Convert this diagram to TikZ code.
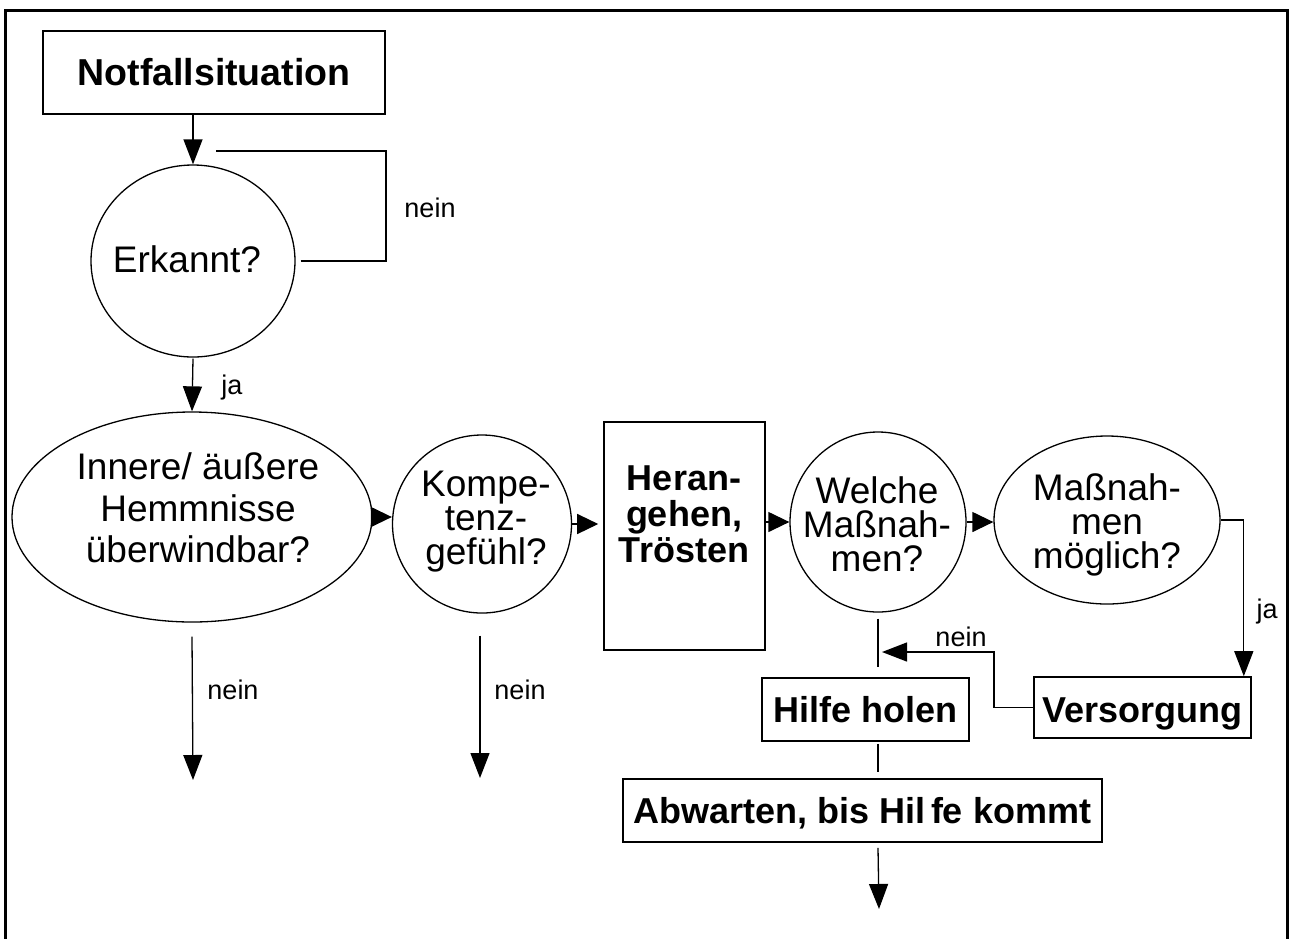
\documentclass[tikz,border=0pt]{standalone}
\usepackage{fontspec}
\setmainfont{Liberation Sans}
\usetikzlibrary{arrows.meta,shapes.geometric,calc}
\newcommand\mybold{\bfseries\fontsize{36}{36}\selectfont}
\newcommand\myreg{\fontsize{37}{34}\selectfont}
\newcommand\mylab{\fontsize{27}{27}\selectfont}
\begin{document}
\begin{tikzpicture}[x=1pt,y=-1pt,
  boxnode/.style={draw, line width=1.6pt, inner sep=0pt, font=\mybold},
  ovalnode/.style={draw, ellipse, line width=1.3pt, inner sep=0pt},
  rtext/.style={align=center, font=\myreg, inner sep=0pt},
  lbl/.style={font=\mylab, inner sep=0pt},
  conn/.style={line width=1.3pt},
  arr/.style={conn, -{Triangle[length=25pt,width=19pt]}},
  harr/.style={conn, -{Triangle[length=21pt,width=20pt]}}]
\useasboundingbox (0,0) rectangle (1289,938);
% frame
\draw[line width=3pt] (5,940) -- (5,10) -- (1287,10) -- (1287,940);

% boxes
\node[boxnode, minimum width=342pt, minimum height=83pt, font=\bfseries\fontsize{37.5}{37.5}\selectfont] (notf) at (214,72.5) {Notfallsituation};
\node[boxnode, minimum width=161pt, minimum height=228pt] (heran) at (684.5,536) {};
\node[align=center, font=\mybold, inner sep=0pt] (heranT) at (684,514) {Heran-\\gehen,\\Trösten};
\node[boxnode, minimum width=207pt, minimum height=63pt, text height=25pt, text depth=0pt] (hilfe) at (865.5,709.5) {Hilfe holen};
\node[boxnode, minimum width=217pt, minimum height=61pt, text height=29pt, text depth=0pt] (vers) at (1142.5,707.5) {Versorgung};
\node[boxnode, minimum width=479pt, minimum height=63pt, text height=25pt, text depth=0pt] (abw) at (862.5,810.5) {Abwarten, bis Hil\kern5pt fe kommt};

% ovals
\node[ovalnode, minimum width=204pt, minimum height=192pt] (erk) at (193,261) {};
\node[rtext] (erkT) at (187,259) {Erkannt?};
\node[ovalnode, minimum width=360pt, minimum height=210pt] (inn) at (192,517) {};
\node[rtext, font=\fontsize{37}{41.5}\selectfont] (innT) at (198,508) {Innere/ äußere\\Hemmnisse\\überwindbar?};
\node[ovalnode, minimum width=179pt, minimum height=178pt] (komp) at (482,524) {};
\node[rtext] (kompT) at (486,521.5) {Kompe-\\tenz-\\gefühl?};
\node[ovalnode, minimum width=176pt, minimum height=180pt] (welche) at (878,522) {};
\node[rtext] (welcheT) at (877,524) {Welche\\Maßnah-\\men?};
\node[ovalnode, minimum width=226pt, minimum height=168pt] (mass) at (1107,520) {};
\node[rtext] (massT) at (1107,524.5) {Maßnah-\\men\\möglich?};

% connectors
\draw[arr] (notf.south -| erk.north) -- (erk.north);
\coordinate (loopc) at (386,151);
\coordinate (loopend) at (216,151);
\draw[conn] ([xshift=5pt]erk.east) -| (loopc) -- (loopend);
\node[lbl] (nein1) at (430,208) {nein};

\draw[arr] ([yshift=-1pt]erk.south) -- (inn.north);
\node[lbl] (ja1) at (232,388) {ja};

\draw[harr] (inn.east) -- (inn.east -| komp.west);
\draw[harr, shorten >=5pt] (komp.east) -- (komp.east -| heran.west);
\draw[harr] (welche.west -| heran.east) -- (welche.west);
\draw[harr] (welche.east) -- (welche.east -| mass.west);

\coordinate (end1) at (193,780);
\coordinate (end2) at (480,778);
\draw[arr] ([yshift=-14pt]inn.south) -- (end1);
\node[lbl] (nein2) at (233,690) {nein};
\draw[arr] ([yshift=-22pt]komp.south -| end2) -- (end2);
\node[lbl] (nein3) at (520,690) {nein};

\draw[arr] (mass.east) -| ([xshift=-8pt]vers.north east);
\node[lbl] (ja2) at (1267,612) {ja};

\coordinate (nk) at (994,652);
\coordinate (ntip) at (882,652);
\draw[arr] (vers.west) -| (nk) -- (ntip);
\node[lbl] (nein4) at (961,637) {nein};

\draw[conn] ([yshift=-6pt]welche.south) -- ($(welche.south |- hilfe.north)+(0,-10)$);
\draw[conn] ($(welche.south |- hilfe.south)+(0,2)$) -- ($(welche.south |- abw.north)+(0,-6)$);
\coordinate (end3) at (879,909);
\draw[arr] ($(welche.south |- abw.south)+(0,5)$) -- (end3);
\end{tikzpicture}
\end{document}
